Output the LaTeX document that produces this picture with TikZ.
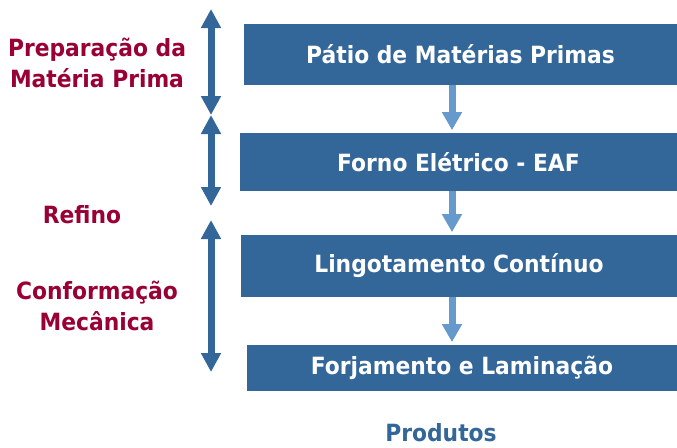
\documentclass[tikz,border=0pt]{standalone}
\usepackage{fontspec}
\setmainfont{DejaVu Sans}[FakeStretch=0.92]
\usepackage{xcolor}
\usetikzlibrary{arrows.meta}
\definecolor{boxblue}{HTML}{336699}
\definecolor{arrowblue}{HTML}{6699CC}
\definecolor{stagered}{HTML}{990033}

\begin{document}
\begin{tikzpicture}[x=0.02cm, y=-0.02cm,
    etapa/.style={fill=boxblue, text=white, inner sep=0pt,
        font=\bfseries\fontsize{13.5}{18}\selectfont},
    fase/.style={text=stagered, align=center,
        font=\bfseries\fontsize{13.5}{18}\selectfont},
    fluxo/.style={arrowblue, line width=0.14cm, shorten >=0.05cm,
        -{Triangle[width=0.38cm, length=0.36cm]}},
    faixa/.style={boxblue, line width=0.14cm,
        {Triangle[width=0.38cm, length=0.38cm]}-{Triangle[width=0.38cm, length=0.38cm]}}]
    \useasboundingbox (0,0) rectangle (677,447);
    % etapas do processo
    \node[etapa, minimum width=8.66cm, minimum height=1.22cm] (patio) at (460.5,54.5) {Pátio de Matérias Primas};
    \node[etapa, minimum width=8.74cm, minimum height=1.16cm] (forno) at (458.5,162) {Forno Elétrico - EAF};
    \node[etapa, minimum width=8.72cm, minimum height=1.24cm] (lingot) at (459,266) {Lingotamento Contínuo};
    \node[etapa, minimum width=8.6cm, minimum height=0.92cm] (forja) at (462,368) {Forjamento e Laminação};
    \node[text=boxblue, font=\bfseries\fontsize{13.5}{18}\selectfont] (produtos) at (441,433) {Produtos};
    \coordinate (eixo) at (452,0);
    \draw[fluxo] (patio.south -| eixo) -- (forno.north -| eixo);
    \draw[fluxo] (forno.south -| eixo) -- (lingot.north -| eixo);
    \draw[fluxo] (lingot.south -| eixo) -- (forja.north -| eixo);
    % fases
    \node[fase] (prep) at (97,63) {Preparação da\\Matéria Prima};
    \node[fase] (refino) at (82,215) {Refino};
    \node[fase] (conf) at (97,306) {Conformação\\Mecânica};
    \coordinate (p1) at (211,9);
    \coordinate (p2) at (211,115);
    \coordinate (p3) at (211,206);
    \coordinate (p4) at (211,220);
    \coordinate (p5) at (211,372);
    \draw[faixa] (p1) -- (p2);
    \draw[faixa] (p2) -- (p3);
    \draw[faixa] (p4) -- (p5);
\end{tikzpicture}
\end{document}
